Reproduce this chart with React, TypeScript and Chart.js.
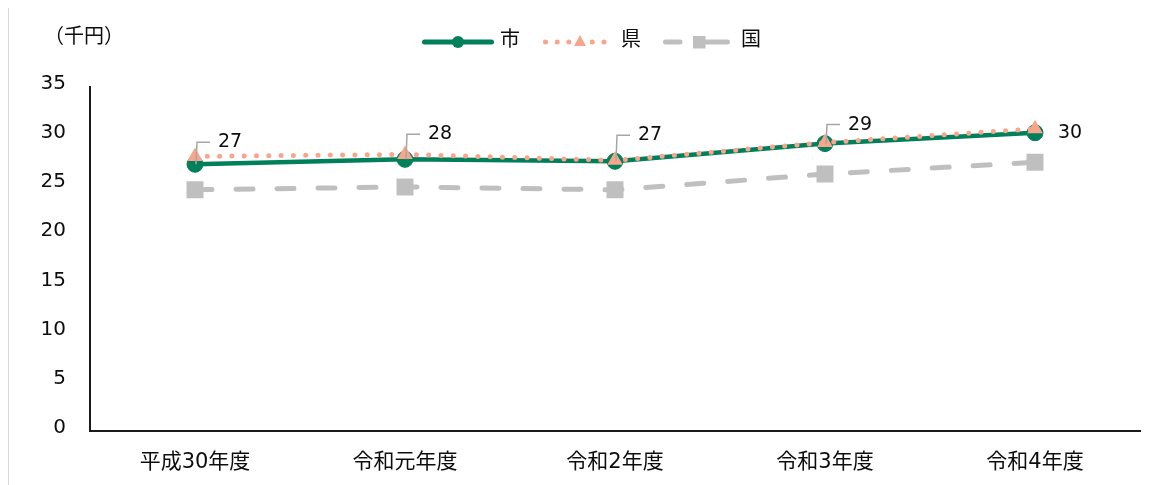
import React, { useEffect, useRef } from "react";
import { Chart, registerables } from "chart.js";

Chart.register(...registerables);

const FONT = '"DejaVu Sans", "Noto Sans CJK JP", sans-serif';

// 年度別の一人当たり額（千円）
const categories = ["平成30年度", "令和元年度", "令和2年度", "令和3年度", "令和4年度"];
const seriesNames = ["市", "県", "国"];
const cityValues = [27.1, 27.6, 27.4, 29.2, 30.3];
const prefValues = [27.9, 28.1, 27.5, 29.3, 30.7];
const nationValues = [24.5, 24.8, 24.5, 26.1, 27.3];
const yMin = 0;
const yMax = 35;
const yStep = 5;
const unitLabel = "（千円）";

const GREEN = "#00805a";
const PINK = "#f8a58c";
const GRAY = "#bfbfbf";
const INK = "#0d0d0d";
const AXIS = "#1a1a1a";

// how far each 市 value label sits above its marker (last one goes to the right)
const LABEL_RISE = [22, 25, 26, 19];

const cityLabelPlugin = {
  id: "cityLabels",
  afterDatasetsDraw(chart: any) {
    const meta = chart.getDatasetMeta(0);
    const ctx = chart.ctx as CanvasRenderingContext2D;
    ctx.save();
    ctx.font = `19px ${FONT}`;
    ctx.textBaseline = "middle";
    ctx.textAlign = "left";
    ctx.fillStyle = INK;
    meta.data.forEach((pt: any, i: number) => {
      const text = String(Math.round(cityValues[i]));
      const x = pt.x;
      const y = pt.y;
      if (i === meta.data.length - 1) {
        ctx.fillText(text, x + 23, y);
        return;
      }
      const ly = y - LABEL_RISE[i];
      ctx.strokeStyle = "#a6a6a6";
      ctx.lineWidth = 1.5;
      ctx.beginPath();
      ctx.moveTo(x + 1, y);
      ctx.lineTo(x + 2, ly);
      ctx.lineTo(x + 15, ly);
      ctx.stroke();
      ctx.fillText(text, x + 23, ly);
    });
    ctx.restore();
  },
};

// legend with line samples, unit caption and the frame's left edge
const frameLegendPlugin = {
  id: "frameLegend",
  afterDraw(chart: any) {
    const ctx = chart.ctx as CanvasRenderingContext2D;
    ctx.save();

    // frame edge
    ctx.strokeStyle = "#d9d9d9";
    ctx.lineWidth = 1;
    ctx.beginPath();
    ctx.moveTo(0.5, 0);
    ctx.lineTo(0.5, chart.height);
    ctx.stroke();

    // unit caption
    ctx.font = `20px ${FONT}`;
    ctx.fillStyle = INK;
    ctx.textBaseline = "middle";
    ctx.textAlign = "left";
    ctx.fillText(unitLabel, 36, 30);

    // legend
    const ly = 34;
    const starts = [414, 535, 655];
    ctx.lineCap = "round";

    // 市
    let s = starts[0];
    ctx.strokeStyle = GREEN;
    ctx.lineWidth = 5;
    ctx.setLineDash([]);
    ctx.beginPath();
    ctx.moveTo(s + 2.5, ly);
    ctx.lineTo(s + 69.5, ly);
    ctx.stroke();
    ctx.fillStyle = GREEN;
    ctx.beginPath();
    ctx.arc(s + 36, ly, 6, 0, Math.PI * 2);
    ctx.fill();

    // 県
    s = starts[1];
    ctx.strokeStyle = PINK;
    ctx.lineWidth = 5;
    ctx.setLineDash([0, 11.7]);
    ctx.beginPath();
    ctx.moveTo(s + 2.5, ly);
    ctx.lineTo(s + 66, ly);
    ctx.stroke();
    ctx.setLineDash([]);
    ctx.fillStyle = PINK;
    ctx.beginPath();
    ctx.moveTo(s + 37, ly - 7);
    ctx.lineTo(s + 43, ly + 4);
    ctx.lineTo(s + 31, ly + 4);
    ctx.closePath();
    ctx.fill();

    // 国
    s = starts[2];
    ctx.strokeStyle = GRAY;
    ctx.lineWidth = 5;
    ctx.beginPath();
    ctx.moveTo(s + 2.5, ly);
    ctx.lineTo(s + 17, ly);
    ctx.moveTo(s + 40, ly);
    ctx.lineTo(s + 64.5, ly);
    ctx.stroke();
    ctx.fillStyle = GRAY;
    ctx.fillRect(s + 30, ly - 6, 12.5, 12.5);

    // legend texts
    ctx.font = `20px ${FONT}`;
    ctx.fillStyle = INK;
    ctx.textBaseline = "middle";
    seriesNames.forEach((name, i) => {
      ctx.fillText(name, starts[i] + 78, ly - 1);
    });

    ctx.restore();
  },
};

export default function App() {
  const canvasRef = useRef<HTMLCanvasElement | null>(null);

  useEffect(() => {
    document.body.style.margin = "8px 8px 0 8px";
    const canvas = canvasRef.current;
    if (!canvas) return;

    const chart = new Chart(canvas, {
      type: "line",
      data: {
        labels: categories,
        datasets: [
          {
            label: seriesNames[0],
            data: cityValues,
            order: 1,
            borderColor: GREEN,
            backgroundColor: GREEN,
            borderWidth: 4.5,
            pointStyle: "circle",
            pointRadius: 8,
            pointHoverRadius: 8,
            pointBorderWidth: 1,
            pointBackgroundColor: GREEN,
            pointBorderColor: GREEN,
            tension: 0,
          },
          {
            label: seriesNames[1],
            data: prefValues,
            order: 0,
            borderColor: PINK,
            backgroundColor: PINK,
            borderWidth: 5,
            borderDash: [0, 12.3],
            borderCapStyle: "round",
            pointStyle: "triangle",
            pointRadius: 9,
            pointHoverRadius: 9,
            pointBorderWidth: 0,
            pointBackgroundColor: PINK,
            pointBorderColor: PINK,
            tension: 0,
          },
          {
            label: seriesNames[2],
            data: nationValues,
            order: 2,
            borderColor: GRAY,
            backgroundColor: GRAY,
            borderWidth: 5,
            borderDash: [17, 24],
            borderCapStyle: "round",
            pointStyle: "rect",
            pointRadius: 12,
            pointHoverRadius: 12,
            pointBorderWidth: 0,
            pointBackgroundColor: GRAY,
            pointBorderColor: GRAY,
            tension: 0,
          },
        ],
      },
      options: {
        responsive: false,
        animation: false,
        events: [],
        layout: { padding: { top: 78.5, right: 19, bottom: 0, left: 0 } },
        font: { family: FONT },
        scales: {
          x: {
            type: "category",
            offset: true,
            grid: { display: false, drawTicks: false },
            border: { display: true, color: AXIS, width: 2 },
            ticks: {
              color: INK,
              font: { family: FONT, size: 21 },
              padding: 19,
              maxRotation: 0,
              autoSkip: false,
            },
            afterFit: (scale: any) => {
              scale.height = 54;
            },
          },
          y: {
            min: yMin,
            max: yMax,
            grid: { display: false, drawTicks: false },
            border: { display: true, color: AXIS, width: 2 },
            ticks: {
              stepSize: yStep,
              color: INK,
              font: { family: FONT, size: 20 },
              padding: 24,
              labelOffset: -3,
            },
            afterFit: (scale: any) => {
              scale.width = 82;
            },
          },
        },
        plugins: {
          legend: { display: false },
          tooltip: { enabled: false },
          title: { display: false },
        },
      } as any,
      plugins: [cityLabelPlugin, frameLegendPlugin],
    });

    return () => chart.destroy();
  }, []);

  return (
    <div style={{ width: 1151, height: 477 }}>
      <canvas ref={canvasRef} width={1151} height={477} style={{ display: "block", width: 1151, height: 477 }} />
    </div>
  );
}
